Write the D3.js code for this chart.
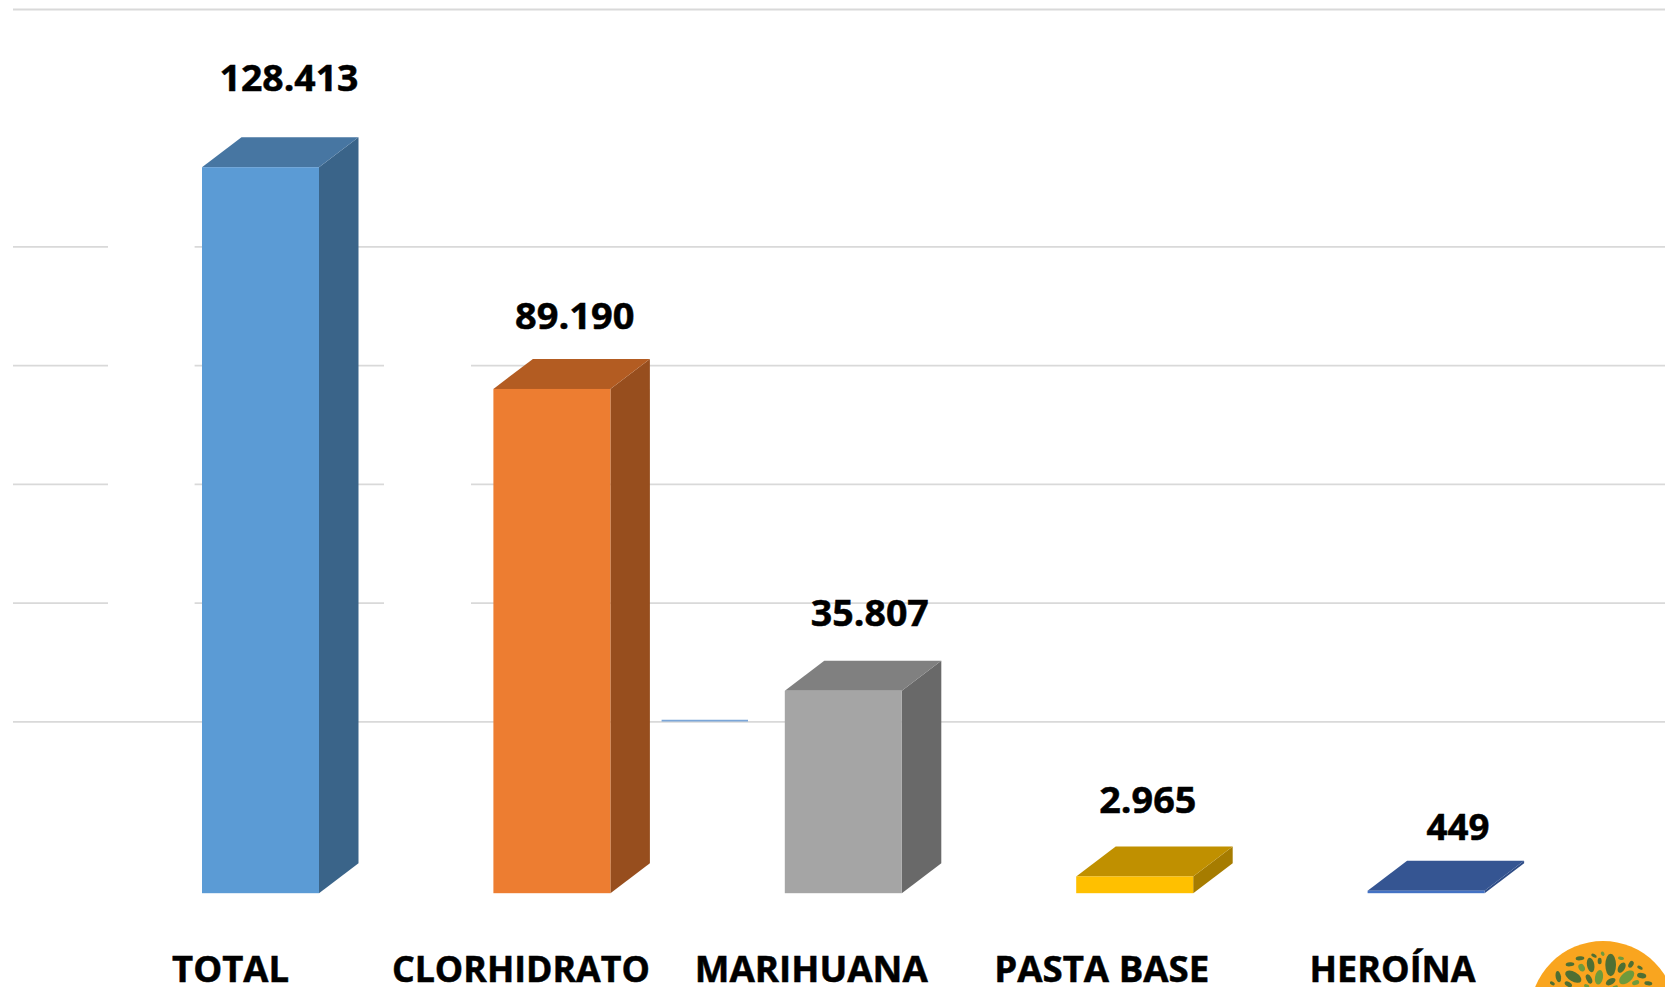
<!DOCTYPE html>
<html>
<head>
<meta charset="utf-8">
<script src="https://cdn.jsdelivr.net/npm/d3@7/dist/d3.min.js"></script>
<style>
html,body{margin:0;padding:0;background:#fff;overflow:hidden}
svg{display:block}
text{font-family:"Open Sans","Noto Sans",sans-serif;font-weight:700;fill:#000}
</style>
</head>
<body>
<svg id="chart" width="1665" height="987"></svg>
<script>
// ---- data ----
const categories = ["TOTAL", "CLORHIDRATO", "MARIHUANA", "PASTA BASE", "HEROÍNA"];
const values = [128413, 89190, 35807, 2965, 449];
const valueLabels = ["128.413", "89.190", "35.807", "2.965", "449"];
const gridValues = [25000, 46000, 67000, 88000, 109000, 151000];

// ---- styles ----
const frontColors = ["#5b9bd5", "#ed7d31", "#a5a5a5", "#ffc000", "#4472c4"];
const topColors   = ["#4776a2", "#b35c22", "#808080", "#c09000", "#355592"];
const sideColors  = ["#3a6489", "#974e1e", "#696969", "#a67c00", "#2e4c86"];

// ---- layout ----
const W = 1665, H = 987;
const baseY = 893.2, topY = 167.2;
const depthX = 39.5, depthY = 30;
const barW = 117;
const barFromCenter = -28;      // front face left edge relative to the category centre
const valueLabelDx = [59, 53.3, 57, 43.6, 62.4];
const valueLabelBaseGap = [46, 30, 35, 33, 20.5];
const valueLabelWidth = [139, 119.5, 118, 97, 63];
const categoryLabelDx = [0.5, -0.5, -1.5, -2.5, -3];
const categoryLabelWidth = [117, 258, 233, 215, 166];
const gridLeft = 13, labelBaseline = 981.7;
// white-outs in the gridlines: [from, to, list of grid values they apply to]
const gridGaps = [
  {from: 108, to: 194.6, on: [46000, 67000, 88000, 109000]},
  {from: 384, to: 471,   on: [46000, 67000, 88000]}
];

const svg = d3.select("#chart");

const x = d3.scaleBand().domain(categories).range([84.3, 1541.3]).padding(0);
const y = d3.scaleLinear().domain([0, 128413]).range([baseY, topY]);
const center = c => x(c) + x.bandwidth() / 2;

// ---- gridlines (back wall of the 3D box) ----
const gridG = svg.append("g");
gridValues.forEach(v => {
  const gaps = gridGaps.filter(g => g.on.includes(v));
  let start = gridLeft;
  const segs = [];
  gaps.forEach(g => { segs.push([start, g.from]); start = g.to; });
  segs.push([start, W]);
  segs.forEach(s => {
    gridG.append("line")
      .attr("x1", s[0]).attr("x2", s[1])
      .attr("y1", y(v) - depthY).attr("y2", y(v) - depthY)
      .attr("stroke", "#d9d9d9").attr("stroke-width", 1.8);
  });
});
// small blue dash beside the second bar
svg.append("line")
  .attr("x1", 661.6).attr("x2", 748)
  .attr("y1", y(25000) - depthY - 1.2).attr("y2", y(25000) - depthY - 1.2)
  .attr("stroke", "#7ba6d8").attr("stroke-width", 1.8);

// ---- 3D bars ----
const poly = pts => pts.map(p => p.join(",")).join(" ");
const bars = svg.append("g").selectAll("g").data(categories).join("g");

bars.each(function (c, i) {
  const g = d3.select(this);
  const l = center(c) + barFromCenter, r = l + barW;
  const t = y(values[i]), b = y(0);
  g.append("polygon")
    .attr("points", poly([[r, t], [r + depthX, t - depthY], [r + depthX, b - depthY], [r, b]]))
    .attr("fill", sideColors[i]);
  g.append("polygon")
    .attr("points", poly([[l, t], [l + depthX, t - depthY], [r + depthX, t - depthY], [r, t]]))
    .attr("fill", topColors[i]);
  g.append("rect")
    .attr("x", l).attr("y", t).attr("width", barW).attr("height", b - t)
    .attr("fill", frontColors[i]);
});

// ---- value labels ----
svg.append("g").selectAll("text").data(categories).join("text")
  .attr("x", (c, i) => center(c) + valueLabelDx[i])
  .attr("y", (c, i) => y(values[i]) - depthY - valueLabelBaseGap[i])
  .attr("text-anchor", "middle")
  .attr("font-size", 36)
  .attr("stroke", "#000").attr("stroke-width", 0.5)
  .attr("textLength", (c, i) => valueLabelWidth[i])
  .attr("lengthAdjust", "spacingAndGlyphs")
  .text((c, i) => valueLabels[i]);

// ---- category axis ----
const axis = svg.append("g")
  .attr("transform", `translate(0,${labelBaseline})`)
  .call(d3.axisBottom(x).tickSize(0).tickPadding(0));
axis.select(".domain").remove();
axis.selectAll("text")
  .attr("x", (c, i) => categoryLabelDx[i])
  .attr("y", 0).attr("dy", 0)
  .attr("font-size", 36)
  .style("font-family", '"Open Sans","Noto Sans",sans-serif')
  .style("font-weight", 700)
  .attr("fill", "#000")
  .attr("stroke", "#000").attr("stroke-width", 0.5)
  .attr("textLength", (c, i) => categoryLabelWidth[i])
  .attr("lengthAdjust", "spacingAndGlyphs");

// ---- logo ----
const logoLeaves = [
  [257,105,16,34,0,0],[197,105,11,22,-10,0],[170,113,9,12,-30,1],[145,140,27,14,30,0],
  [100,140,8,17,-10,0],[222,142,12,22,10,1],[192,147,8,15,-25,0],[305,142,27,15,-40,1],
  [290,113,10,17,30,0],[318,103,7,11,30,0],[135,103,13,6,-5,0],[165,85,13,6,-5,0],
  [207,77,9,5,30,0],[233,71,5,7,-30,1],[224,93,6,10,0,0],[288,85,9,5,10,1],
  [345,113,9,5,30,0],[350,137,14,8,10,0],[257,155,16,9,-30,0],[332,158,11,7,-20,1],
  [370,160,12,6,10,0],[130,163,12,7,30,0],[82,160,8,5,30,0],[185,168,8,5,20,1],[270,171,9,4,-20,1]
];
const logo = svg.append("g");
logo.append("circle").attr("cx", 1603).attr("cy", 1014).attr("r", 73).attr("fill", "#f9a51f");
const leafG = logo.append("g").attr("transform", "translate(1525,930) scale(0.3333)");
logoLeaves.forEach(d => {
  leafG.append("ellipse")
    .attr("rx", d[2]).attr("ry", d[3])
    .attr("transform", `translate(${d[0]},${d[1]}) rotate(${d[4]})`)
    .attr("fill", d[5] ? "#6f9a3c" : "#4f6f33");
});
</script>
</body>
</html>
